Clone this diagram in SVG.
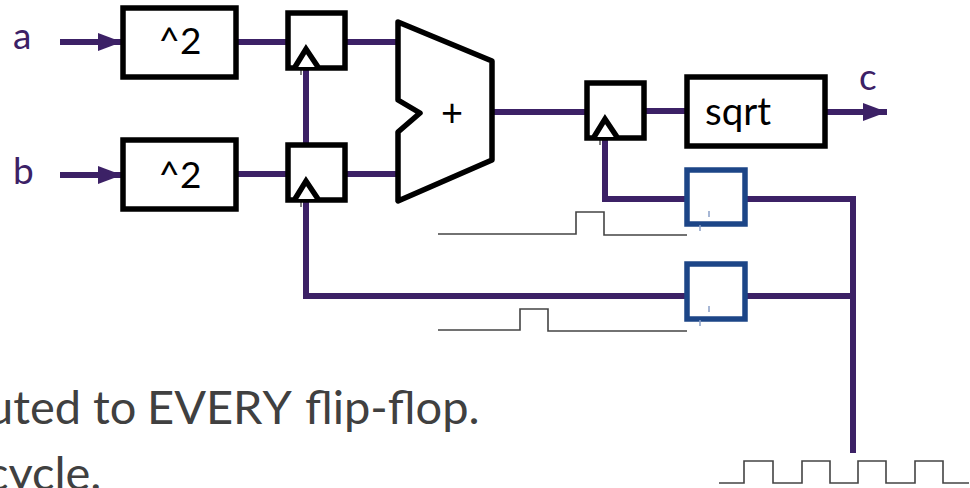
<svg xmlns="http://www.w3.org/2000/svg" width="970" height="488" viewBox="0 0 970 488">
<defs><style>
.w{fill:none;stroke:#3c2166;stroke-width:6}
.b{fill:#fff;stroke:#000;stroke-width:5.5}
.f{fill:#fff;stroke:#000;stroke-width:5.5}
.g{fill:#fff;stroke:#1c4587;stroke-width:5.5}
.p{fill:none;stroke:#444;stroke-width:1.6}
.k{fill:none;stroke:#000;stroke-width:1}
.q{fill:none;stroke:#8aa0c8;stroke-width:1.5}
.t{font-family:Lato,"Liberation Sans",sans-serif;font-size:37px;fill:#000}
.l{font-family:Lato,"Liberation Sans",sans-serif;font-size:37px;fill:#3c2166}
.x{font-family:Lato,"Liberation Sans",sans-serif;font-size:47px;fill:#404040}
</style>
<marker id="a" markerUnits="userSpaceOnUse" markerWidth="24" markerHeight="20" refX="24" refY="9" orient="auto"><path d="M0 0L24 9L0 18Z" fill="#3c2166"/></marker>
</defs>
<g id="connectors">
<path class="w" d="M60 42H122" marker-end="url(#a)"/>
<path class="w" d="M60 175H122" marker-end="url(#a)"/>
<path class="w" d="M235 42H290M345 42H398M235 174H290M345 174H401M306 65V146M306 198V296H688M493 112H587M644 111H687"/>
<path class="w" d="M605 135V199H688M745 199H856M745 296H853M853 197V453"/>
<path class="w" d="M825 112H887" marker-end="url(#a)"/>
</g>
<g id="pulses">
<path class="p" d="M438 234H576V212H604V235H687"/>
<path class="p" d="M438 330H520V309H548V331H687"/>
<path class="p" d="M719 483H744V461H773V483H802V461H830V483H858V461H886V483H915V461H943V483H969"/>
</g>
<g id="sq-a"><rect class="b" x="123" y="8" width="113" height="69"/><text class="t" x="180" y="54" text-anchor="middle">^2</text></g>
<g id="sq-b"><rect class="b" x="123" y="140" width="113" height="69"/><text class="t" x="180" y="188" text-anchor="middle">^2</text></g>
<g id="ff1"><rect class="f" x="288" y="13" width="57" height="55"/><path class="f" d="M295 67L306 49L318 67"/><path class="k" d="M301 68V75"/></g>
<g id="ff2"><rect class="f" x="288" y="145" width="57" height="55"/><path class="f" d="M295 199L306 181L318 199"/><path class="k" d="M301 200V207"/></g>
<g id="adder"><path class="b" stroke-linejoin="round" d="M398 22L492 61V160L398 201V132L420 113L398 100Z"/><text class="t" x="452" y="126" text-anchor="middle" style="font-size:38px">+</text></g>
<g id="ff3"><rect class="f" x="587" y="83" width="57" height="55"/><path class="f" d="M594 137L605 119L617 137"/><path class="k" d="M600 138V145"/></g>
<g id="sqrt"><rect class="b" x="687" y="77" width="138" height="69"/><text class="t" x="705" y="125" style="font-size:38.5px">sqrt</text></g>
<g id="gate1"><rect class="g" x="687" y="170" width="58" height="54"/><path class="q" d="M709 211V217M700 225V231"/></g>
<g id="gate2"><rect class="g" x="687" y="264" width="58" height="55"/><path class="q" d="M709 306V312M700 320V326"/></g>
<g id="labels"><text class="l" x="13" y="49">a</text><text class="l" x="13" y="184">b</text><text class="l" x="859" y="90">c</text></g>
<g id="caption"><text class="x" y="424"><tspan x="-13">uted to</tspan><tspan x="147" style="font-kerning:none">EVERY</tspan><tspan x="305">flip-flop.</tspan></text><text class="x" x="-14" y="490">cycle.</text></g>
</svg>
